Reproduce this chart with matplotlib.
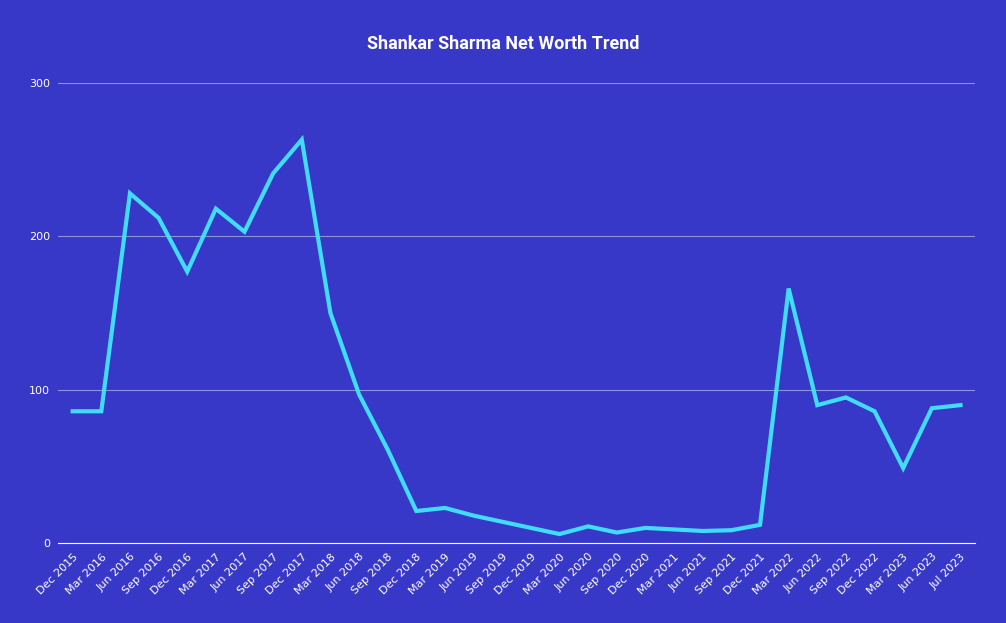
import matplotlib.pyplot as plt

dates = ['Dec 2015', 'Mar 2016', 'Jun 2016', 'Sep 2016', 'Dec 2016', 'Mar 2017', 'Jun 2017',
         'Sep 2017', 'Dec 2017', 'Mar 2018', 'Jun 2018', 'Sep 2018', 'Dec 2018', 'Mar 2019',
         'Jun 2019', 'Sep 2019', 'Dec 2019', 'Mar 2020', 'Jun 2020', 'Sep 2020', 'Dec 2020',
         'Mar 2021', 'Jun 2021', 'Sep 2021', 'Dec 2021', 'Mar 2022', 'Jun 2022', 'Sep 2022',
         'Dec 2022', 'Mar 2023', 'Jun 2023', 'Jul 2023']
net_worth = [86, 86, 228, 212, 177, 218, 203, 241, 263, 150, 97, 61, 21, 23, 18, 14, 10, 6,
             11, 7, 10, 9, 8, 8.5, 12, 166, 90, 95, 86, 49, 88, 90]

bg = '#3838c8'
fig = plt.figure(figsize=(10.06, 6.23), dpi=100, facecolor=bg)
ax = fig.add_axes([0.058, 0.128, 0.911, 0.739], facecolor=bg)

x = range(len(dates))
ax.plot(x, net_worth, color='#40dcf8', linewidth=3, solid_joinstyle='miter')
ax.set_xlim(-0.5, len(dates) - 0.5)
ax.set_ylim(0, 300)
ax.set_yticks([0, 100, 200, 300])
ax.set_xticks(list(x))
ax.set_xticklabels(dates, rotation=45, ha='right', rotation_mode='anchor')
ax.tick_params(colors='white', labelsize=8, length=0, pad=6)
ax.grid(axis='y', color='white', alpha=0.45, linewidth=0.8)
for s in ['top', 'right', 'left']:
    ax.spines[s].set_visible(False)
ax.spines['bottom'].set_color('white')
ax.set_axisbelow(True)

fig.text(0.5, 0.93, 'Shankar Sharma Net Worth Trend', color='white', fontsize=13,
         fontweight='bold', ha='center', va='center', family='Roboto')

fig.savefig('out.png', dpi=100, facecolor=bg)
